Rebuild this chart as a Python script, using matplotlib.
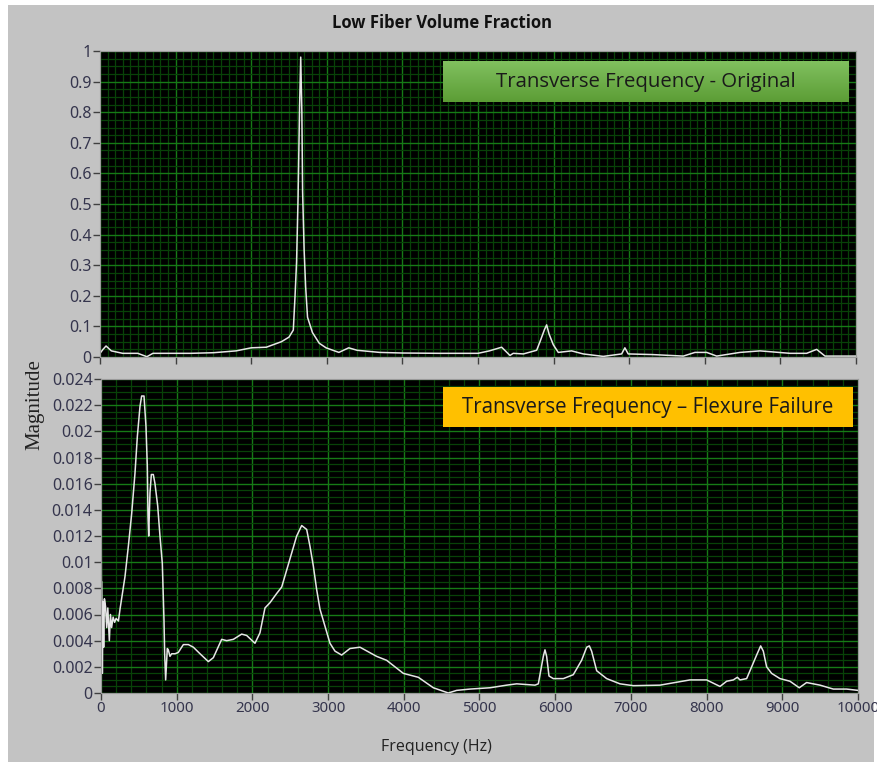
import matplotlib.pyplot as plt
import numpy as np
from matplotlib.patches import Rectangle
from matplotlib.ticker import MultipleLocator

# transverse frequency - original (Hz, magnitude)
freq_orig = [0, 40, 80, 150, 300, 500, 620, 700, 900, 1200, 1500, 1800, 2000, 2200, 2400,
             2500, 2557, 2580, 2600, 2620, 2640, 2655, 2670, 2680, 2700, 2720, 2745, 2810,
             2900, 2990, 3160, 3290, 3400, 3700, 4000, 4500, 5000, 5150, 5313, 5423, 5466,
             5600, 5776, 5820, 5880, 5908, 5940, 5996, 6062, 6238, 6392, 6657, 6900, 6943,
             6987, 7300, 7716, 7870, 8025, 8157, 8466, 8730, 9127, 9347, 9480, 9590, 9965, 10000]
mag_orig = [0.012, 0.025, 0.036, 0.02, 0.012, 0.012, 0.001, 0.012, 0.012, 0.012, 0.014, 0.02, 0.03, 0.032, 0.05,
            0.065, 0.088, 0.2, 0.31, 0.52, 0.82, 0.98, 0.80, 0.54, 0.35, 0.23, 0.13, 0.08,
            0.045, 0.03, 0.015, 0.03, 0.022, 0.015, 0.013, 0.012, 0.012, 0.02, 0.032, 0.005, 0.012,
            0.01, 0.022, 0.05, 0.09, 0.105, 0.075, 0.04, 0.015, 0.02, 0.01, 0.002, 0.01, 0.03,
            0.01, 0.008, 0.003, 0.015, 0.015, 0.003, 0.015, 0.02, 0.012, 0.012, 0.025, 0.003, 0.003, 0.003]

# transverse frequency - flexure failure
freq_fail = [0, 5, 10, 18, 26, 35, 45, 60, 75, 90, 110, 125, 140, 160, 180, 200, 230, 251,
             317, 361, 405, 449, 480, 515, 537, 568, 594, 612, 621, 630, 638, 647, 665, 691,
             713, 749, 779, 810, 832, 841, 854, 867, 876, 889, 911, 933, 978, 1021, 1088,
             1154, 1220, 1308, 1418, 1484, 1594, 1660, 1748, 1858, 1924, 2034, 2100, 2166,
             2232, 2320, 2387, 2453, 2519, 2585, 2651, 2717, 2761, 2805, 2849, 2893, 2959,
             3025, 3091, 3179, 3289, 3421, 3641, 3773, 3994, 4192, 4390, 4588, 4698, 4874,
             5139, 5359, 5491, 5733, 5777, 5843, 5865, 5887, 5918, 5975, 6107, 6239, 6349,
             6416, 6451, 6481, 6548, 6680, 6856, 7032, 7384, 7780, 8000, 8177, 8265, 8353,
             8406, 8441, 8529, 8595, 8661, 8714, 8749, 8793, 8859, 8969, 9101, 9224, 9321,
             9498, 9674, 9850, 10000]
mag_fail = [0.0157, 0.0085, 0.0085, 0.0015, 0.007, 0.0035, 0.0072, 0.0066, 0.005, 0.0065, 0.004, 0.006, 0.005,
            0.0058, 0.0054, 0.0057, 0.0055, 0.0064,
            0.0089, 0.0112, 0.0137, 0.0168, 0.0196, 0.0219, 0.0227, 0.0227, 0.0204, 0.0173, 0.0135, 0.012,
            0.0135, 0.0153, 0.0167, 0.0167,
            0.016, 0.0143, 0.012, 0.0099, 0.0056, 0.003, 0.001, 0.0025, 0.0034, 0.0033, 0.0028, 0.003, 0.003,
            0.0031, 0.0037,
            0.0037, 0.0035, 0.003, 0.0024, 0.0027, 0.0041, 0.004, 0.0041, 0.0045, 0.0044, 0.0038, 0.0046, 0.0065,
            0.0069, 0.0076, 0.0081, 0.0094, 0.0107, 0.012, 0.0128, 0.0125, 0.0112, 0.0097, 0.0079, 0.0064, 0.0051,
            0.0038, 0.0032, 0.0029, 0.0034, 0.0035, 0.0028, 0.0025, 0.0015, 0.0012, 0.0004, 0.0, 0.0002, 0.0003,
            0.0004, 0.0006, 0.0007, 0.0006, 0.0007, 0.0028, 0.0033, 0.0028, 0.0013, 0.0011, 0.0011, 0.0014, 0.0025,
            0.0035, 0.0036, 0.0032, 0.0017, 0.0011, 0.0007, 0.00056, 0.0006, 0.001, 0.001, 0.0005, 0.0009, 0.001,
            0.0012, 0.001, 0.0011, 0.002, 0.0029, 0.0036, 0.0032, 0.002, 0.0015, 0.0011, 0.0009, 0.0004, 0.0008,
            0.0006, 0.0003, 0.0003, 0.0002]

panel = '#c3c3c3'
label_col = '#35354d'

plt.rcParams['font.family'] = ['Noto Sans', 'DejaVu Sans']

fig = plt.figure(figsize=(8.78, 7.64), dpi=100, facecolor='white')
fig.patches.append(Rectangle((8 / 878, 1 - 762 / 764), 866 / 878, 757 / 764,
                             transform=fig.transFigure, facecolor=panel, edgecolor='none', zorder=-10))

ax1 = fig.add_axes([100 / 878, 1 - 357 / 764, 756 / 878, 306 / 764])
ax2 = fig.add_axes([101 / 878, 1 - 693 / 764, 757 / 878, 314 / 764])


def style(ax, ymax, ymajor, yminor, xminor):
    ax.set_facecolor('black')
    ax.set_xlim(0, 10000)
    ax.set_ylim(0, ymax)
    ax.xaxis.set_major_locator(MultipleLocator(1000))
    ax.xaxis.set_minor_locator(MultipleLocator(xminor))
    ax.yaxis.set_major_locator(MultipleLocator(ymajor))
    ax.yaxis.set_minor_locator(MultipleLocator(yminor))
    ax.grid(which='major', color='#167a16', linewidth=1.0)
    ax.grid(which='minor', color='#084208', linewidth=0.9)
    ax.set_axisbelow(True)
    ax.tick_params(which='major', direction='out', length=5, width=1, color='#404040',
                   labelcolor=label_col, pad=1)
    ax.tick_params(axis='y', labelsize=11.5)
    ax.tick_params(axis='x', labelsize=10.8)
    ax.tick_params(which='minor', length=0)
    for s in ax.spines.values():
        s.set_color('#9a9a9a')


style(ax1, 1.0, 0.1, 0.025, 100)
style(ax2, 0.024, 0.002, 0.0005, 200)
ax1.set_xticklabels([])
ax1.yaxis.set_major_formatter(lambda v, p: '%g' % round(v, 3))
ax2.yaxis.set_major_formatter(lambda v, p: '%g' % round(v, 4))
ax2.xaxis.set_major_formatter(lambda v, p: '%d' % v)

ax1.plot(freq_orig, mag_orig, color='#e6e6e6', linewidth=1.1)
ax2.plot(freq_fail, mag_fail, color='#e6e6e6', linewidth=1.1)

# green gradient box
grad = np.linspace(0, 1, 50).reshape(-1, 1)
ax1.imshow(grad, extent=(0.4537, 0.9907, 0.833, 0.964), transform=ax1.transAxes,
           cmap=plt.matplotlib.colors.LinearSegmentedColormap.from_list('g', ['#5c9d35', '#80c05f']),
           origin='lower', aspect='auto', zorder=5)
ax1.set_xlim(0, 10000)
ax1.set_ylim(0, 1.0)
ax1.text(0.722, 0.8985, 'Transverse Frequency - Original', transform=ax1.transAxes,
         ha='center', va='center', fontsize=14.7, color='#1a1a1a', family='Open Sans', zorder=6)

ax2.add_patch(Rectangle((0.4518, 0.847), 0.5416, 0.1275, transform=ax2.transAxes,
                        facecolor='#ffc000', edgecolor='none', zorder=5))
ax2.text(0.7226, 0.9108, 'Transverse Frequency \u2013 Flexure Failure', transform=ax2.transAxes,
         ha='center', va='center', fontsize=14.8, color='#1a1a1a', family='Open Sans', zorder=6)

fig.text(442 / 878, 1 - 23 / 764, 'Low Fiber Volume Fraction', ha='center', va='center',
         fontsize=12, fontweight='bold', family='Open Sans', color='#111111')
fig.text(35 / 878, 1 - 405 / 764, 'Magnitude', rotation=90, ha='center', va='center',
         fontsize=15, family='Liberation Serif', color='#222222')
fig.text(436 / 878, 1 - 747 / 764, 'Frequency (Hz)', ha='center', va='center',
         fontsize=11.5, family='Open Sans', color='#222222')

fig.savefig('out.png', dpi=100, facecolor=fig.get_facecolor())
